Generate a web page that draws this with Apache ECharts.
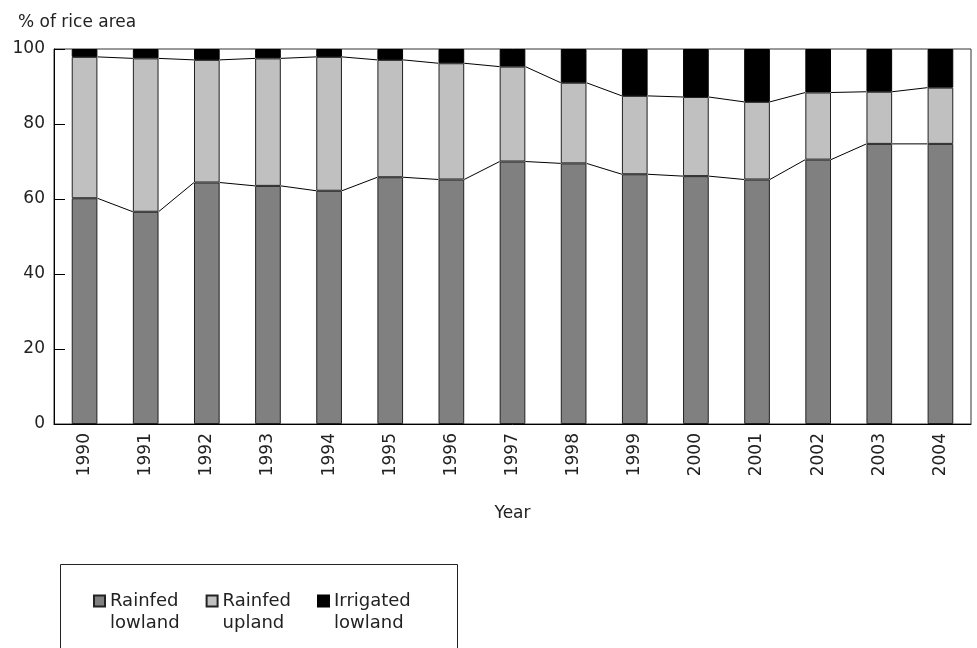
<!DOCTYPE html>
<html><head><meta charset="utf-8">
<script src="https://cdn.jsdelivr.net/npm/echarts@6/dist/echarts.min.js"></script>
<style>html,body{margin:0;padding:0;background:#fff}#c{width:977px;height:648px}</style>
</head><body><div id="c"></div>
<script>
const years = ['1990','1991','1992','1993','1994','1995','1996','1997','1998','1999','2000','2001','2002','2003','2004'];
const rainfedLowland = [60.2,56.6,64.4,63.5,62.2,65.8,65.2,70.0,69.5,66.6,66.1,65.2,70.5,74.7,74.7];
const rainfedUpland = [37.7,40.9,32.7,34.0,35.7,31.3,31.0,25.3,21.5,20.9,21.1,20.7,17.9,13.9,15.0];
const irrigatedLowland = [2.1,2.5,2.9,2.5,2.1,2.9,3.8,4.7,9.0,12.5,12.8,14.1,11.6,11.4,10.3];
const yTicks = [0,20,40,60,80,100];
const seriesNames = ['Rainfed\nlowland','Rainfed\nupland','Irrigated\nlowland'];

const FONT = 'DejaVu Sans';
const BAR_RATIO = 0.42;
const boundary1 = rainfedLowland.slice();
const boundary2 = rainfedLowland.map((v,i)=>v+rainfedUpland[i]);

function connector(vals){
  return function(params, api){
    const i = params.dataIndex;
    if (i >= vals.length-1) return null;
    const hw = api.size([1,0])[0]*BAR_RATIO/2;
    const p1 = api.coord([i, vals[i]]);
    const p2 = api.coord([i+1, vals[i+1]]);
    return {type:'line', shape:{x1:p1[0]+hw, y1:p1[1], x2:p2[0]-hw, y2:p2[1]},
      style:{stroke:'#000', lineWidth:1}, z2: 10};
  };
}

const chart = echarts.init(document.getElementById('c'));
const barBase = {type:'bar', stack:'t', barWidth:(BAR_RATIO*100)+'%', animation:false};
chart.setOption({
  animation:false,
  textStyle:{fontFamily:FONT},
  title:{text:'% of rice area', left:13, top:9, textStyle:{fontFamily:FONT, fontSize:17, fontWeight:'normal', color:'#222'}},
  grid:{left:54, right:6, top:49, bottom:224, show:true, borderColor:'#333', borderWidth:1, backgroundColor:'transparent'},
  xAxis:{type:'category', data:years, boundaryGap:true,
    axisLine:{lineStyle:{color:'#000', width:1}}, axisTick:{show:false},
    axisLabel:{rotate:90, interval:0, margin:9, fontSize:17, color:'#222', fontFamily:FONT},
    name:'Year', nameLocation:'middle', nameGap:81, nameTextStyle:{fontSize:17, color:'#222', fontFamily:FONT}},
  yAxis:{type:'value', min:yTicks[0], max:yTicks[yTicks.length-1], interval:20,
    axisLine:{show:true, lineStyle:{color:'#000', width:1}},
    axisTick:{show:true, inside:true, length:11, lineStyle:{color:'#000'}},
    splitLine:{show:false},
    axisLabel:{fontSize:17, color:'#222', margin:9, fontFamily:FONT}},
  legend:{data:seriesNames, left:93, top:568, padding:0,
    orient:'horizontal', itemGap:26, itemWidth:11, itemHeight:11, icon:'rect', selectedMode:false,
    formatter: n => '\n' + n,
    textStyle:{fontFamily:FONT, fontSize:18, lineHeight:22, color:'#222'}},
  graphic:[{type:'rect', shape:{x:60.5, y:564.5, width:397, height:120}, style:{fill:'none', stroke:'#222', lineWidth:1}}],
  series:[
    Object.assign({name:seriesNames[0], data:rainfedLowland, itemStyle:{color:'#808080', borderColor:'#222', borderWidth:1}}, barBase),
    Object.assign({name:seriesNames[1], data:rainfedUpland, itemStyle:{color:'#c0c0c0', borderColor:'#222', borderWidth:1}}, barBase),
    Object.assign({name:seriesNames[2], data:irrigatedLowland, itemStyle:{color:'#000', borderColor:'#000', borderWidth:1}}, barBase),
    {type:'custom', name:'b1', renderItem:connector(boundary1), data:boundary1.map((v,i)=>[i,v]), encode:{x:0,y:1}, z:5, silent:true},
    {type:'custom', name:'b2', renderItem:connector(boundary2), data:boundary2.map((v,i)=>[i,v]), encode:{x:0,y:1}, z:5, silent:true}
  ]
});
</script></body></html>
